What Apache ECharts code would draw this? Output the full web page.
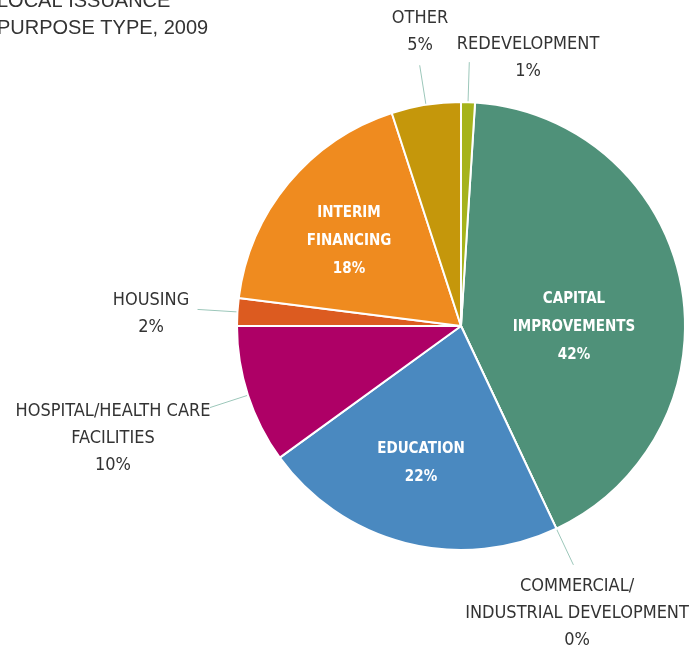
<!DOCTYPE html>
<html>
<head>
<meta charset="utf-8">
<script src="https://cdn.jsdelivr.net/npm/echarts@6/dist/echarts.min.js"></script>
<style>
  html, body { margin: 0; padding: 0; background: #fff; }
  #chart { width: 692px; height: 651px; }
</style>
</head>
<body>
<div id="chart"></div>
<script>
// purpose types, clockwise from 12 o'clock
const categories = [
  "CAPITAL\nIMPROVEMENTS",
  "COMMERCIAL/\nINDUSTRIAL DEVELOPMENT",
  "EDUCATION",
  "HOSPITAL/HEALTH CARE\nFACILITIES",
  "HOUSING",
  "INTERIM\nFINANCING",
  "OTHER",
  "REDEVELOPMENT"
];
const shares = [42, 0, 22, 10, 2, 18, 5, 1];
const colors = ["#4f9179", "#4f9179", "#4a89c0", "#ae0066", "#dc5b20", "#ef8b1f", "#c5970b", "#a6b31b"];
const inside = [true, false, true, false, false, true, false, false];

// where each label block sits (centre of the text block)
const labelSpots = [
  [574, 327], [577, 613], [421, 463], [113, 438],
  [151, 314], [349, 241], [420, 32], [528, 58]
];

const narrow = "'Liberation Sans Narrow', 'DejaVu Sans Condensed', sans-serif";

const chart = echarts.init(document.getElementById("chart"));

const data = categories.map((name, i) => ({
  name: name,
  value: shares[i],
  itemStyle: { color: colors[i] },
  label: inside[i]
    ? { position: "inside", color: "#fff", fontWeight: "bold", fontSize: 15, lineHeight: 28 }
    : { position: "outside", color: "#333", fontSize: 18, lineHeight: 27 },
  labelLine: { show: !inside[i] }
}));

chart.setOption({
  animation: false,
  title: {
    text: "LOCAL ISSUANCE\nPURPOSE TYPE, 2009",
    left: -8,
    top: -17,
    textStyle: {
      fontFamily: "'Liberation Sans', Arial, sans-serif",
      fontWeight: "normal",
      fontSize: 20,
      lineHeight: 27,
      color: "#333"
    }
  },
  series: [{
    type: "pie",
    center: [461, 326],
    radius: 224,
    startAngle: 86.4,
    clockwise: true,
    avoidLabelOverlap: false,
    itemStyle: { borderColor: "#fff", borderWidth: 2 },
    label: {
      fontFamily: narrow,
      align: "center",
      formatter: (p) => p.name + "\n" + p.value + "%"
    },
    labelLine: {
      length: 40,
      length2: 0,
      smooth: false,
      lineStyle: { color: "#9cc7ba", width: 1 }
    },
    labelLayout: (p) => {
      const s = labelSpots[p.dataIndex];
      const out = { x: s[0], y: s[1], align: "center", verticalAlign: "middle" };
      if (p.labelLinePoints) out.labelLinePoints = p.labelLinePoints;
      return out;
    },
    data: data
  }]
});
</script>
</body>
</html>
